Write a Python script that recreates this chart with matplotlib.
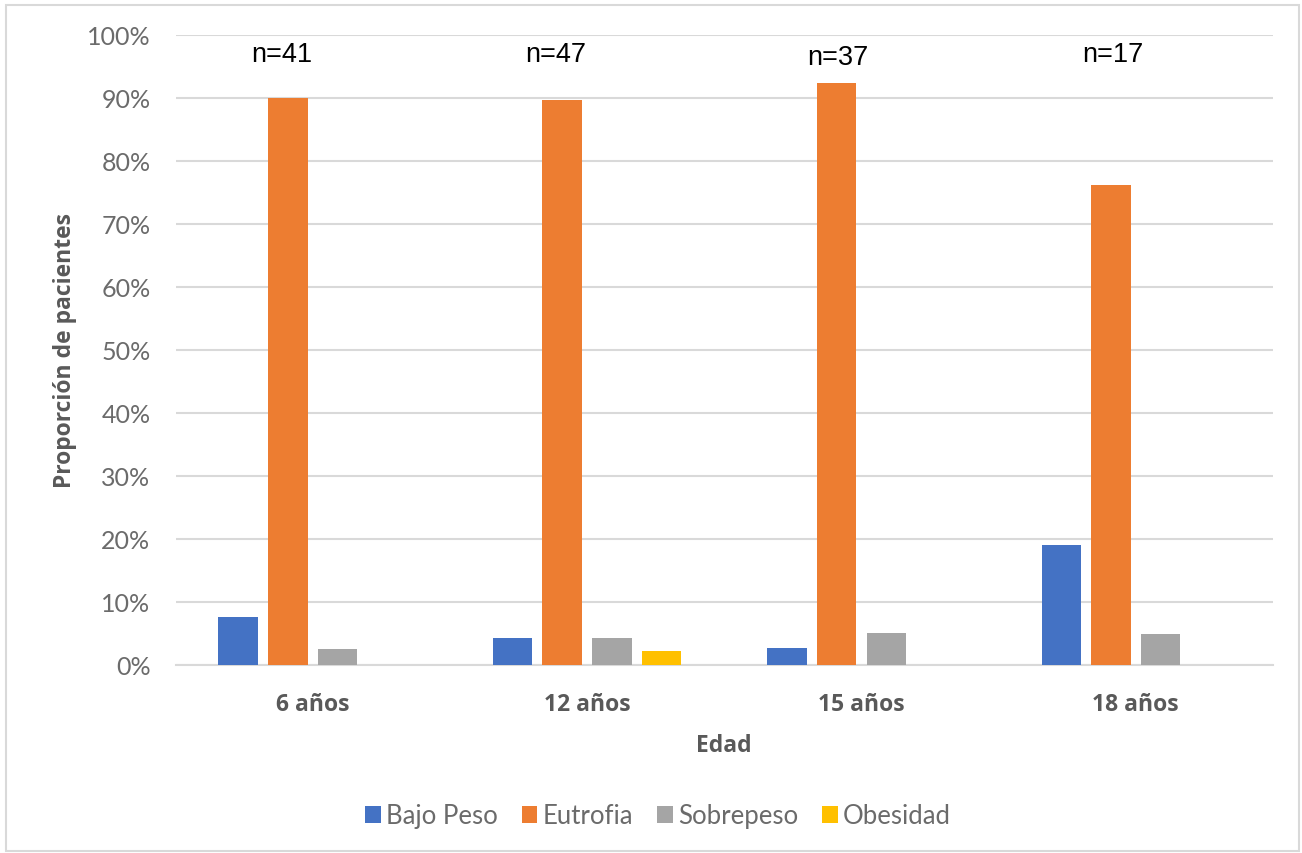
import matplotlib
matplotlib.use("Agg")
import matplotlib.pyplot as plt
from matplotlib.patches import Rectangle
import numpy as np

# Nutritional status by age group (% of patients)
ages = ["6 años", "12 años", "15 años", "18 años"]
series_names = ["Bajo Peso", "Eutrofia", "Sobrepeso", "Obesidad"]
bajo_peso = [7.5, 4.2, 2.6, 19.0]
eutrofia = [90.0, 89.6, 92.3, 76.2]
sobrepeso = [2.5, 4.2, 5.1, 4.8]
obesidad = [0.0, 2.1, 0.0, 0.0]
sample_sizes = ["n=41", "n=47", "n=37", "n=17"]

colors = ["#4472c4", "#ed7d31", "#a5a5a5", "#ffc000"]
grid_gray = "#d9d9d9"
text_gray = "#595959"
light_gray = "#6b6b6b"

W, H = 1302, 854
fig = plt.figure(figsize=(W / 100, H / 100), dpi=100)
ax = fig.add_axes([175.5 / W, (H - 665.7) / H, (1273 - 175.5) / W, (665.7 - 35.7) / H])

x = np.arange(len(ages))
bar_w = 0.144
step = 0.181
all_series = [bajo_peso, eutrofia, sobrepeso, obesidad]
for i, (name, vals) in enumerate(zip(series_names, all_series)):
    offset = (i - 1.5) * step
    ax.bar(x + offset, vals, width=bar_w, color=colors[i], label=name, zorder=3)

ax.set_xlim(-0.5, 3.5)
ax.set_ylim(0, 100)
ax.set_yticks(np.arange(0, 101, 10))
ax.set_yticklabels([f"{v}%" for v in range(0, 101, 10)],
                   fontfamily="Lato", fontweight="normal", fontsize=18, color=light_gray)
ax.set_xticks(x)
ax.set_xticklabels(ages, fontfamily="Open Sans", fontweight="bold", fontsize=16.5, color=text_gray)
ax.tick_params(axis="both", length=0)
ax.tick_params(axis="y", pad=18)
ax.tick_params(axis="x", pad=20)

ax.grid(axis="y", color=grid_gray, linewidth=1.5, zorder=0)
for side in ["top", "right", "left"]:
    ax.spines[side].set_visible(False)
ax.spines["bottom"].set_color(grid_gray)
ax.spines["bottom"].set_linewidth(1.5)

ax.set_ylabel("Proporción de pacientes", fontfamily="Open Sans", fontweight="bold",
              fontsize=16.5, color=text_gray, labelpad=7)
ax.set_xlabel("Edad", fontfamily="Open Sans", fontweight="bold", fontsize=16.5,
              color=text_gray, labelpad=12)

# sample size boxes above each group
n_pos = [(-0.113, 96.9), (0.887, 96.9), (1.914, 96.4), (2.917, 96.9)]
for (nx, ny), label in zip(n_pos, sample_sizes):
    ax.text(nx, ny, label, ha="center", va="center", fontfamily="Liberation Sans",
            fontsize=19.5, color="black")

leg = fig.legend(loc="center", bbox_to_anchor=(658 / W, (H - 817) / H), ncol=4,
                 frameon=False, handlelength=0.6, handleheight=0.6, handletextpad=0.2,
                 columnspacing=0.95, prop={"family": "Lato", "weight": "normal", "size": 18.5})
for t in leg.get_texts():
    t.set_color(light_gray)

# chart border
fig.patches.append(Rectangle((6 / W, 2 / H), (1299 - 6) / W, (H - 8) / H,
                             transform=fig.transFigure, fill=False,
                             edgecolor=grid_gray, linewidth=1.5))

fig.savefig("out.png", dpi=100)
